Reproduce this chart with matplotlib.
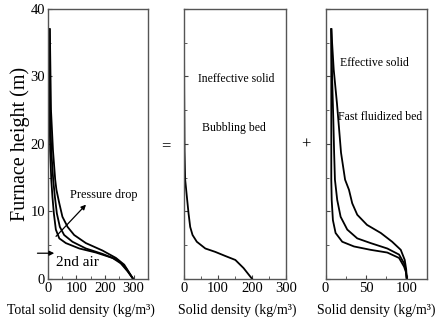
import matplotlib
matplotlib.use("Agg")
import matplotlib.pyplot as plt

plt.rcParams['font.family'] = ['Liberation Serif', 'DejaVu Serif']

# total solid density (kg/m3) vs furnace height (m), three pressure drops
h_tot_low = [0, 1.1, 2.3, 3.1, 3.9, 4.5, 5.3, 6.0, 7.3, 9.7, 12.2, 14.7, 19, 25, 37]
x_tot_low = [298, 279, 255, 226, 168, 110, 63, 40, 28, 21, 16, 12, 8, 6, 5]
h_tot_mid = [0, 1.6, 2.8, 3.7, 4.5, 5.5, 6.5, 7.7, 9.7, 12.2, 14.7, 19, 25, 37]
x_tot_mid = [298, 273, 244, 191, 133, 86, 57, 42, 31.5, 24.5, 18.7, 12, 8, 6]
h_tot_high = [0, 2.1, 3.1, 4.2, 5.3, 6.5, 7.7, 9.2, 11.2, 13.2, 14.7, 19, 25, 37]
x_tot_high = [298, 267, 238, 191, 133, 92, 69, 51, 40, 30, 25.7, 18, 11, 7]

# bubbling bed (ineffective solid)
h_bub = [0, 1.6, 2.8, 3.4, 4.0, 4.5, 5.5, 6.5, 7.7, 9.7, 12.2, 14.7, 19, 28, 37]
x_bub = [200, 175, 151, 121, 92, 63, 38, 25.5, 18.6, 13.8, 8.8, 3.9, 2, 1, 0.5]

# fast fluidized bed (effective solid)
h_eff_low = [0, 1.0, 1.8, 3.1, 3.9, 4.3, 4.8, 5.5, 6.8, 8.7, 11.7, 14.7, 20, 28, 37]
x_eff_low = [100, 99, 96.7, 90.5, 76, 55.5, 35, 20.5, 12.3, 9, 7.5, 7, 7, 7, 7]
h_eff_mid = [0, 1.2, 2.3, 3.6, 4.5, 5.3, 6.0, 7.3, 9.2, 11.7, 14.7, 18.7, 23.6, 30, 37]
x_eff_mid = [100, 99, 96.7, 90.5, 76, 55.5, 39, 26.7, 18.5, 14.3, 11.5, 10.5, 9.5, 8, 7]
h_eff_high = [0, 1.4, 2.8, 4.3, 5.5, 6.8, 8.0, 9.5, 11.2, 13.2, 14.7, 18.7, 22.1, 26, 31, 37]
x_eff_high = [100, 99.3, 97.5, 92.6, 82, 68, 51, 39, 32.8, 28.8, 24, 19, 16.7, 14, 10, 7]

fig = plt.figure(figsize=(4.43, 3.22), dpi=100)
ax1 = fig.add_axes([0.108, 0.134, 0.226, 0.838])
ax2 = fig.add_axes([0.415, 0.134, 0.231, 0.838])
ax3 = fig.add_axes([0.735, 0.134, 0.229, 0.838])

lw = 1.3
for h, x in [(h_tot_low, x_tot_low), (h_tot_mid, x_tot_mid), (h_tot_high, x_tot_high)]:
    ax1.plot(x, h, color='black', lw=lw)
ax2.plot(x_bub, h_bub, color='black', lw=lw)
for h, x in [(h_eff_low, x_eff_low), (h_eff_mid, x_eff_mid), (h_eff_high, x_eff_high)]:
    ax3.plot(x, h, color='black', lw=lw)

ax1.set_xlim(0, 350)
ax2.set_xlim(0, 300)
ax3.set_xlim(0, 125)

for ax in (ax1, ax2, ax3):
    ax.set_ylim(0, 40)
    ax.set_yticks([0, 10, 20, 30, 40])
    ax.set_yticks([5, 15, 25, 35], minor=True)
    ax.tick_params(which='both', direction='in', labelsize=10.5, pad=2,
                   color='#444444', length=3)
    ax.tick_params(which='minor', length=2)
    for s in ax.spines.values():
        s.set_color('#555555')
        s.set_linewidth(1.0)

ax1.set_xticks([0, 100, 200, 300])
ax1.set_xticks([50, 150, 250], minor=True)
ax2.set_xticks([0, 100, 200, 300])
ax2.set_xticks([50, 150, 250], minor=True)
ax3.set_xticks([0, 50, 100])
ax3.set_xticks([25, 75], minor=True)
ax2.set_yticklabels([])
ax3.set_yticklabels([])

ax1.set_ylabel('Furnace height (m)', fontsize=14.5, labelpad=0)
fig.text(0.183, 0.037, 'Total solid density (kg/m³)', fontsize=10, ha='center', va='center')
fig.text(0.535, 0.037, 'Solid density (kg/m³)', fontsize=10, ha='center', va='center')
fig.text(0.849, 0.037, 'Solid density (kg/m³)', fontsize=10, ha='center', va='center')

ax1.annotate('', xy=(140, 11.3), xytext=(22, 6.0),
             arrowprops=dict(arrowstyle='-|>', color='black', lw=0.9,
                             mutation_scale=7))
ax1.text(194, 12.4, 'Pressure drop', fontsize=8.8, ha='center', va='center')
ax1.annotate('', xy=(32, 3.8), xytext=(-46, 3.8), annotation_clip=False,
             arrowprops=dict(arrowstyle='-|>', color='black', lw=0.9,
                             mutation_scale=7))
ax1.text(28, 2.4, '2nd air', fontsize=11, ha='left', va='center')

ax2.text(153, 29.6, 'Ineffective solid', fontsize=8.5, ha='center', va='center')
ax2.text(146, 22.4, 'Bubbling bed', fontsize=8.5, ha='center', va='center')
ax3.text(59.5, 32, 'Effective solid', fontsize=8.5, ha='center', va='center')
ax3.text(67, 24, 'Fast fluidized bed', fontsize=8.5, ha='center', va='center')

fig.text(0.375, 0.547, '=', fontsize=12, ha='center', va='center')
fig.text(0.691, 0.55, '+', fontsize=12, ha='center', va='center')

fig.savefig('out.png', dpi=100)
